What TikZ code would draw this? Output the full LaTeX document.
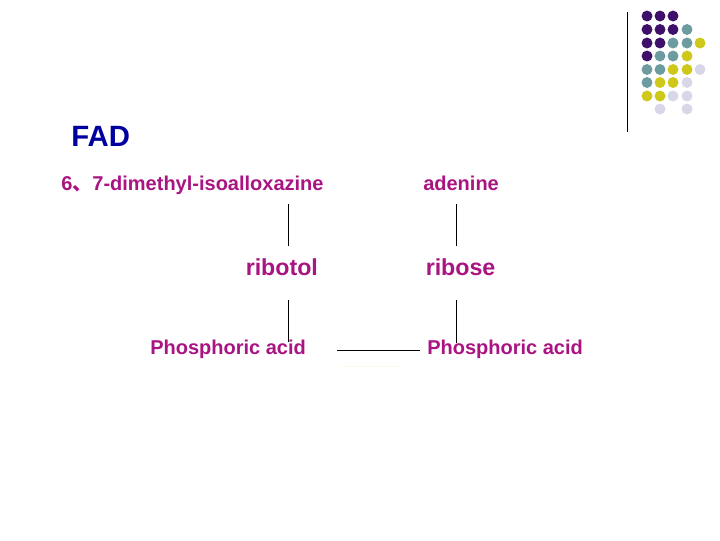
\documentclass[tikz,border=0pt]{standalone}
\usepackage{fontspec}
\setmainfont{Liberation Sans}
\newfontfamily\cjkf{Noto Sans CJK SC}
\definecolor{titleblue}{RGB}{0,0,160}
\definecolor{labelmag}{RGB}{170,20,130}
\definecolor{dotP}{RGB}{62,16,105}
\definecolor{dotT}{RGB}{108,155,160}
\definecolor{dotY}{RGB}{205,200,25}
\definecolor{dotL}{RGB}{215,215,232}
\definecolor{faintY}{RGB}{253,252,232}
\tikzset{
  lab/.style={inner sep=0pt,text=labelmag,font=\bfseries\fontsize{15}{18}\selectfont,anchor=base west},
  conn/.style={draw=black,line width=0.75pt},
  dotp/.style={circle,fill=dotP,minimum size=8.2pt,inner sep=0pt},
  dott/.style={circle,fill=dotT,minimum size=8.2pt,inner sep=0pt},
  doty/.style={circle,fill=dotY,minimum size=8.2pt,inner sep=0pt},
  dotl/.style={circle,fill=dotL,minimum size=8.2pt,inner sep=0pt},
}
\begin{document}
\begin{tikzpicture}[x=0.75pt,y=-0.75pt]
\useasboundingbox (0,0) rectangle (720,540);
\fill[white] (0,0) rectangle (720,540);
% title and labels
\node[inner sep=0pt,anchor=base west,text=titleblue,font=\bfseries\fontsize{22}{24}\selectfont] (fad) at (71,146) {FAD};
\node[lab] (dmi) at (61,190) {6{\cjkf 、}7-dimethyl-isoalloxazine};
\node[lab] (ade) at (423,190) {adenine};
\node[lab,font=\bfseries\fontsize{17.4}{20}\selectfont] (rbt) at (245.5,275) {ribotol};
\node[lab,font=\bfseries\fontsize{17.4}{20}\selectfont] (rbs) at (425.5,275) {ribose};
\node[lab] (pa) at (150,354.5) {Phosphoric acid};
\node[lab] (pb) at (427,354.5) {Phosphoric acid};
% connector ends
\coordinate (l1a) at (288.5,204); \coordinate (l1b) at (288.5,246);
\coordinate (r1a) at (456.5,204); \coordinate (r1b) at (456.5,246);
\coordinate (l2a) at (288.5,300); \coordinate (l2b) at (288.5,342);
\coordinate (r2a) at (456.5,300); \coordinate (r2b) at (456.5,343);
\coordinate (ha) at (337,350.5); \coordinate (hb) at (420,350.5);
\coordinate (fa) at (342,366.5); \coordinate (fb) at (402,366.5);
\coordinate (va) at (627.5,12); \coordinate (vb) at (627.5,132);
\draw[conn] (l1a) -- (l1b);
\draw[conn] (r1a) -- (r1b);
\draw[conn] (l2a) -- (l2b);
\draw[conn] (r2a) -- (r2b);
\draw[conn] (ha) -- (hb);
\draw[faintY,line width=1pt] (fa) -- (fb);
\draw[conn] (va) -- (vb);
% dots
\foreach \s/\x/\y in {
 dotp/647/16,dotp/660/16,dotp/673/16,
 dotp/647/29.5,dotp/660/29.5,dotp/673/29.5,dott/687/29.5,
 dotp/647/43,dotp/660/43,dott/673/43,dott/687/43,doty/700/43,
 dotp/647/56,dott/660/56,dott/673/56,doty/687/56,
 dott/647/69.5,dott/660/69.5,doty/673/69.5,doty/687/69.5,dotl/700/69.5,
 dott/647/82.5,doty/660/82.5,doty/673/82.5,dotl/687/82.5,
 doty/647/96,doty/660/96,dotl/673/96,dotl/687/96,
 dotl/660/109,dotl/687/109}
 \node[\s] at (\x,\y) {};
\end{tikzpicture}
\end{document}
